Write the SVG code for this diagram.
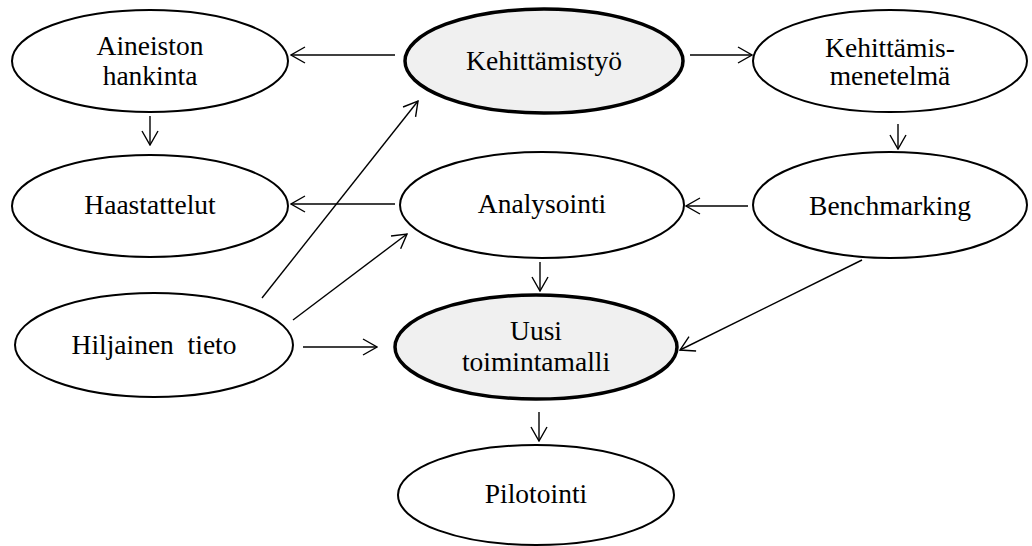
<svg xmlns="http://www.w3.org/2000/svg" width="1032" height="546" viewBox="0 0 1032 546">
<style>
.n{fill:#fff;stroke:#000;stroke-width:2}
.k{fill:#f0f0f0;stroke:#000;stroke-width:3.5}
text{font-family:"Liberation Serif","Times New Roman",serif;font-size:27.5px;fill:#000;text-anchor:middle}
.c line{stroke:#000;stroke-width:1.4;marker-end:url(#a)}
</style>
<defs>
<marker id="a" viewBox="0 0 16 18" refX="15" refY="9" markerWidth="16" markerHeight="18" markerUnits="userSpaceOnUse" orient="auto">
<path d="M1,1 L15,9 L1,17" fill="none" stroke="#000" stroke-width="1.4"/>
</marker>
</defs>
<g class="c" id="connectors">
<line x1="395" y1="55" x2="291" y2="55"/>
<line x1="690" y1="55" x2="752" y2="55"/>
<line x1="150" y1="116" x2="150" y2="145"/>
<line x1="898" y1="124" x2="898" y2="149"/>
<line x1="748" y1="206" x2="686" y2="206"/>
<line x1="395" y1="204" x2="291" y2="204"/>
<line x1="262" y1="298" x2="418" y2="101"/>
<line x1="293" y1="320" x2="407" y2="234"/>
<line x1="303" y1="347" x2="377" y2="347"/>
<line x1="540" y1="262" x2="540" y2="291"/>
<line x1="862" y1="260" x2="680" y2="350"/>
<line x1="539" y1="412" x2="539" y2="441"/>
</g>
<g id="aineiston"><ellipse class="n" cx="150" cy="61" rx="138" ry="51"/><text x="150" y="55">Aineiston</text><text x="150" y="85">hankinta</text></g>
<g id="kehittamistyo"><ellipse class="k" cx="544" cy="61" rx="139" ry="52"/><text x="544" y="70">Kehittämistyö</text></g>
<g id="kehittamismenetelma"><ellipse class="n" cx="890" cy="61" rx="137" ry="51"/><text x="890" y="57">Kehittämis-</text><text x="890" y="85">menetelmä</text></g>
<g id="haastattelut"><ellipse class="n" cx="150" cy="206" rx="138" ry="51"/><text x="150" y="214">Haastattelut</text></g>
<g id="analysointi"><ellipse class="n" cx="542" cy="205" rx="142" ry="53"/><text x="542" y="213">Analysointi</text></g>
<g id="benchmarking"><ellipse class="n" cx="890" cy="205" rx="137" ry="53"/><text x="890" y="215">Benchmarking</text></g>
<g id="hiljainen"><ellipse class="n" cx="154" cy="345" rx="139" ry="52"/><text x="154" y="354" xml:space="preserve">Hiljainen  tieto</text></g>
<g id="uusi"><ellipse class="k" cx="536" cy="347" rx="141" ry="52"/><text x="536" y="340">Uusi</text><text x="536" y="371">toimintamalli</text></g>
<g id="pilotointi"><ellipse class="n" cx="536" cy="495" rx="138" ry="50"/><text x="536" y="503">Pilotointi</text></g>
</svg>
